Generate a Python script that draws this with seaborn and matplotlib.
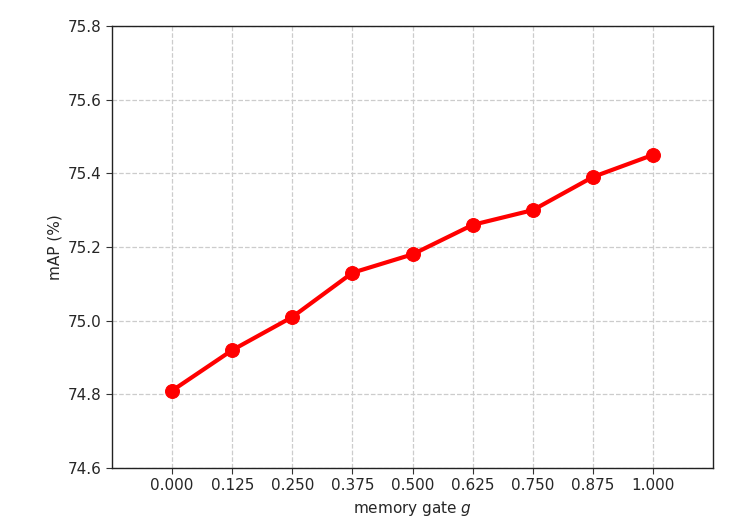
import pandas as pd
import seaborn as sns
import matplotlib
matplotlib.use("Agg")
import matplotlib.pyplot as plt

# data
gate = [0.000, 0.125, 0.250, 0.375, 0.500, 0.625, 0.750, 0.875, 1.000]
map_pct = [74.81, 74.92, 75.01, 75.13, 75.18, 75.26, 75.30, 75.39, 75.45]

df = pd.DataFrame({"g": gate, "mAP": map_pct})

sns.set_style("ticks")
plt.rcParams["font.family"] = ["DejaVu Sans"]

fig = plt.figure(figsize=(7.39, 5.29), dpi=100)
ax = fig.add_axes([0.1516, 0.1153, 0.8134, 0.8357])

sns.lineplot(
    data=df,
    x="g",
    y="mAP",
    color="red",
    linewidth=3,
    marker="o",
    markersize=10,
    markeredgecolor="red",
    ax=ax,
)

ax.set_xlim(-0.125, 1.125)
ax.set_ylim(74.6, 75.8)
ax.set_xticks(gate)
ax.set_xticklabels([f"{v:.3f}" for v in gate])
ax.set_yticks([74.6, 74.8, 75.0, 75.2, 75.4, 75.6, 75.8])
ax.set_yticklabels(["74.6", "74.8", "75.0", "75.2", "75.4", "75.6", "75.8"])
ax.tick_params(labelsize=11, direction="out", length=4, color="#333333")
ax.grid(True, linestyle="--", color="#cccccc", linewidth=0.9)
ax.set_axisbelow(True)
for s in ax.spines.values():
    s.set_color("#222222")
    s.set_linewidth(1.0)

ax.set_xlabel("memory gate $g$", fontsize=11)
ax.set_ylabel("mAP (%)", fontsize=11)

fig.savefig("out.png", dpi=100)
